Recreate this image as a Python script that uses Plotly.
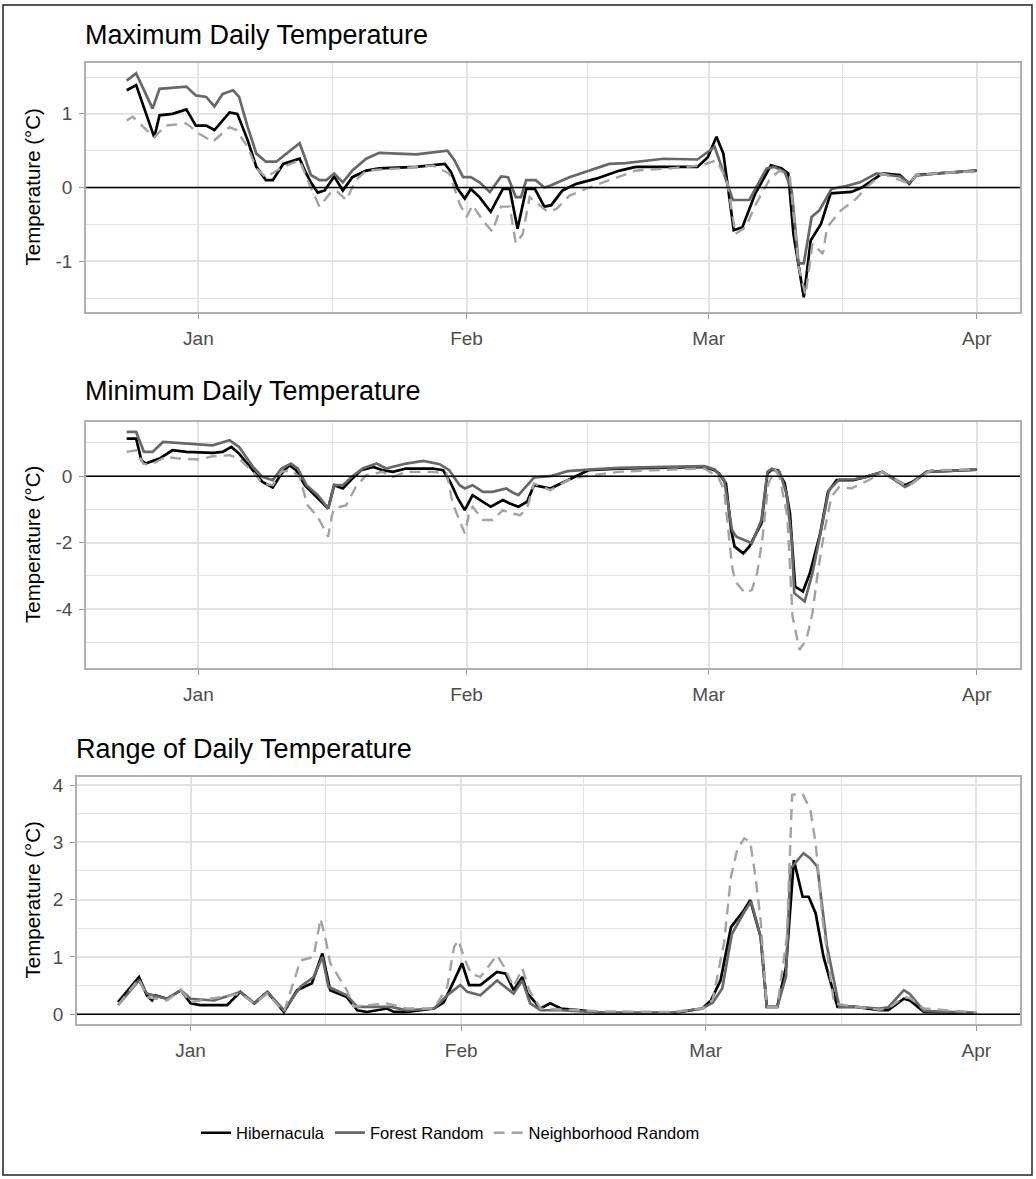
import plotly.graph_objects as go
import pandas as pd

W, H = 1036, 1179
BASE = pd.Timestamp("2017-01-01")

series_names = ["Hibernacula", "Forest Random", "Neighborhood Random"]
month_labels = ["Jan", "Feb", "Mar", "Apr"]
month_days = [0, 31, 59, 90]          # days since 1 Jan
mid_month_days = [15.5, 45, 74.5]

# ---------------- Maximum daily temperature (days since 1 Jan, value) ----------------
max_hib_day = [-8.3, -7.2, -5.1, -4.5, -3, -1.4, -0.3, 0.9, 1.85, 3.6, 4.5, 5.7, 6.7, 7.8, 8.6, 9.8, 11.7, 12.3,
               13.0, 13.8, 14.6, 15.7, 16.7, 17.8, 19.4, 20.9, 25.2, 28.5, 29.2, 30.0, 30.8, 31.5, 32.5, 33.8, 35.2,
               36.0, 36.9, 37.9, 38.9, 40.0, 40.8, 42.1, 43.7, 46.0, 48.7, 50.6, 57.7, 58.9, 59.9, 60.7, 61.9, 62.9,
               64.4, 66.2, 67.4, 68.2, 68.8, 70.0, 70.8, 72.0, 73.1, 75.5, 76.7, 79.1, 81.1, 82.2, 83.0, 86.2, 90]
max_hib_val = [1.32, 1.39, 0.68, 0.98, 1.0, 1.06, 0.84, 0.84, 0.78, 1.02, 1.0, 0.64, 0.28, 0.1, 0.1, 0.32, 0.39, 0.23,
               0.07, -0.07, -0.04, 0.15, -0.04, 0.14, 0.23, 0.26, 0.28, 0.32, 0.21, -0.02, -0.15, -0.02, -0.13, -0.33,
               -0.02, -0.02, -0.56, -0.02, -0.02, -0.26, -0.24, -0.04, 0.05, 0.12, 0.23, 0.28, 0.28, 0.41, 0.69, 0.46,
               -0.58, -0.54, -0.08, 0.30, 0.26, 0.19, -0.63, -1.49, -0.72, -0.49, -0.08, -0.06, 0.0, 0.19, 0.17, 0.05,
               0.17, 0.2, 0.23]
max_for_day = [-8.3, -7.2, -5.3, -4.5, -1.4, -0.3, 0.9, 1.85, 2.8, 4.0, 4.7, 5.7, 6.7, 7.8, 9.0, 11.7, 12.3, 13.0,
               14.0, 14.8, 15.7, 16.7, 17.8, 19.4, 20.9, 25.2, 28.8, 29.6, 30.6, 31.5, 32.5, 33.7, 35.0, 35.8, 36.7,
               37.3, 37.9, 39.0, 40.0, 40.8, 42.9, 45.2, 47.5, 49.4, 53.8, 57.7, 59.7, 61.8, 63.7, 65.7, 66.6, 67.8,
               68.6, 69.4, 70.0, 70.9, 71.8, 73.2, 74.9, 76.5, 78.4, 81.1, 82.2, 83.0, 86.2, 90]
max_for_val = [1.45, 1.55, 1.07, 1.34, 1.37, 1.25, 1.23, 1.10, 1.27, 1.32, 1.23, 0.82, 0.46, 0.35, 0.35, 0.60, 0.41,
               0.17, 0.1, 0.1, 0.19, 0.07, 0.23, 0.39, 0.47, 0.45, 0.50, 0.37, 0.14, 0.14, 0.07, -0.06, 0.15, 0.14,
               -0.13, -0.13, 0.1, 0.1, 0.0, 0.03, 0.14, 0.23, 0.32, 0.33, 0.39, 0.38, 0.55, -0.17, -0.17, 0.26, 0.28,
               0.21, -0.04, -1.03, -1.03, -0.40, -0.31, -0.02, 0.02, 0.07, 0.19, 0.15, 0.06, 0.16, 0.2, 0.23]
max_nei_day = [-8.3, -7.6, -5.1, -3.8, -1.4, 0.1, 1.65, 3.6, 4.4, 5.7, 6.7, 7.8, 9.8, 11.7, 12.8, 14.0, 15.2, 15.9,
               17.1, 18.2, 19.4, 23.3, 27.1, 29.0, 30.2, 31.0, 31.7, 32.9, 34.0, 35.0, 36.0, 36.7, 37.5, 38.3, 39.0,
               40.4, 41.4, 42.9, 44.8, 46.8, 50.6, 54.6, 58.2, 59.9, 61.1, 62.1, 63.3, 64.3, 66.0, 67.2, 68.4, 69.4,
               70.2, 71.0, 72.2, 72.7, 74.3, 75.9, 77.5, 79.1, 82.2, 83.0, 86.2, 90]
max_nei_val = [0.91, 0.96, 0.68, 0.84, 0.87, 0.73, 0.62, 0.82, 0.78, 0.55, 0.26, 0.14, 0.28, 0.37, 0.05, -0.26, -0.08,
               -0.04, -0.17, 0.1, 0.23, 0.26, 0.30, 0.19, -0.22, -0.40, -0.24, -0.45, -0.60, -0.26, -0.26, -0.76,
               -0.63, -0.13, -0.2, -0.33, -0.29, -0.11, -0.02, 0.07, 0.23, 0.26, 0.30, 0.37, 0.1, -0.63, -0.54, -0.26,
               0.1, 0.23, 0.14, -1.08, -1.46, -0.76, -0.90, -0.54, -0.31, -0.17, 0.03, 0.19, 0.05, 0.17, 0.2, 0.22]

# ---------------- Minimum daily temperature ----------------
min_hib_day = [-8.3, -7.2, -6.6, -6.1, -4.5, -3.0, -1.4, 1.65, 2.8, 3.8, 4.7, 6.3, 7.4, 8.6, 9.6, 10.5, 11.3, 12.3,
               13.6, 15.0, 15.7, 16.7, 17.8, 18.8, 20.2, 21.3, 22.5, 24.0, 27.1, 28.3, 29.2, 30.0, 30.8, 31.7, 32.9,
               33.8, 35.2, 36.0, 37.0, 38.0, 38.8, 40.7, 42.7, 45.1, 48.6, 52.6, 58.5, 59.7, 60.2, 61.0, 61.6, 62.0,
               63.0, 63.7, 65.1, 65.8, 66.3, 67.0, 67.8, 68.4, 69.0, 69.9, 70.7, 71.9, 72.8, 73.8, 75.7, 77.2, 79.1,
               80.7, 81.7, 82.6, 84.2, 90]
min_hib_val = [1.13, 1.13, 0.48, 0.38, 0.53, 0.78, 0.73, 0.70, 0.73, 0.88, 0.68, 0.18, -0.17, -0.34, 0.08, 0.33, 0.18,
               -0.27, -0.62, -0.97, -0.27, -0.37, -0.07, 0.18, 0.28, 0.18, 0.13, 0.23, 0.23, 0.18, -0.22, -0.67, -1.02,
               -0.57, -0.77, -0.92, -0.72, -0.82, -0.92, -0.77, -0.27, -0.37, -0.12, 0.18, 0.23, 0.25, 0.28, 0.18,
               0.08, -0.22, -1.62, -2.12, -2.32, -2.12, -1.42, 0.08, 0.2, 0.18, -0.22, -1.12, -3.32, -3.47, -2.92,
               -1.72, -0.47, -0.12, -0.12, -0.02, 0.13, -0.12, -0.27, -0.17, 0.13, 0.2]
min_for_day = [-8.3, -7.2, -6.3, -5.3, -4.1, -1.4, 1.65, 3.6, 4.7, 6.3, 7.4, 8.6, 9.6, 10.7, 11.5, 12.5, 13.8, 15.0,
               15.7, 16.7, 17.8, 19.0, 20.6, 21.7, 24.0, 26.0, 27.9, 29.0, 30.2, 30.8, 31.7, 32.9, 34.0, 35.6, 36.4,
               37.0, 38.0, 38.8, 40.7, 42.7, 45.1, 48.6, 52.6, 58.5, 59.7, 60.8, 61.7, 62.2, 64.0, 65.1, 65.8, 66.3,
               67.2, 68.0, 68.6, 68.9, 70.1, 71.0, 72.0, 72.9, 74.1, 75.7, 77.2, 79.1, 80.7, 81.7, 82.6, 84.2, 90]
min_for_val = [1.33, 1.33, 0.73, 0.73, 1.03, 0.98, 0.93, 1.08, 0.88, 0.28, -0.02, -0.12, 0.23, 0.38, 0.23, -0.27,
               -0.57, -0.97, -0.27, -0.27, 0.0, 0.23, 0.38, 0.23, 0.38, 0.46, 0.36, 0.18, -0.27, -0.37, -0.27, -0.47,
               -0.47, -0.37, -0.50, -0.57, -0.27, -0.04, 0.0, 0.15, 0.2, 0.25, 0.27, 0.3, 0.2, -0.12, -1.62, -1.82,
               -2.02, -1.32, 0.13, 0.22, 0.13, -0.52, -1.92, -3.52, -3.77, -2.92, -1.62, -0.42, -0.1, -0.1, -0.02,
               0.13, -0.15, -0.32, -0.2, 0.13, 0.2]
min_nei_day = [-8.3, -7.2, -6.4, -5.6, -3.8, -2.2, 0.1, 1.65, 3.6, 4.7, 6.3, 7.4, 8.6, 9.6, 10.7, 11.7, 12.6, 13.8,
               15.0, 15.4, 15.7, 17.1, 18.2, 19.4, 21.3, 22.5, 24.0, 27.1, 28.7, 29.4, 30.8, 31.4, 31.7, 32.9, 34.0,
               35.2, 36.2, 37.2, 38.0, 38.8, 40.7, 42.7, 44.7, 48.6, 52.6, 58.5, 60.1, 60.8, 61.7, 62.1, 63.2, 64.0,
               64.6, 65.2, 65.9, 66.7, 67.2, 68.1, 68.7, 69.5, 70.3, 71.0, 71.6, 72.4, 73.2, 74.1, 75.5, 77.5, 79.1,
               80.7, 82.0, 83.0, 84.7, 90]
min_nei_val = [0.73, 0.78, 0.38, 0.33, 0.58, 0.53, 0.5, 0.6, 0.63, 0.53, 0.13, -0.22, -0.27, 0.13, 0.18, -0.02, -0.87,
               -1.22, -1.82, -1.22, -0.97, -0.87, -0.32, 0.03, 0.13, -0.02, 0.13, 0.13, 0.08, -0.82, -1.72, -1.02,
               -0.92, -1.32, -1.32, -1.02, -1.12, -1.17, -0.97, -0.22, -0.42, -0.12, 0.0, 0.13, 0.18, 0.23, -0.02,
               -0.42, -2.72, -3.17, -3.52, -3.42, -2.92, -1.92, -0.22, 0.18, -0.02, -1.22, -4.22, -5.22, -4.92, -4.12,
               -2.92, -1.62, -0.62, -0.32, -0.37, -0.12, 0.13, -0.12, -0.32, -0.12, 0.18, 0.2]

# ---------------- Range of daily temperature ----------------
rng_hib_day = [-8.3, -5.9, -5.0, -4.4, -4.0, -2.7, -1.1, 0, 1.1, 4.2, 5.7, 7.3, 8.8, 10.7, 12.2, 13.9, 15.1, 16.0,
               17.9, 19.1, 20.2, 22.5, 23.3, 24.8, 27.9, 29.0, 30.2, 31.1, 31.9, 33.2, 35.1, 36.1, 37.0, 38.0, 38.6,
               40.1, 41.2, 42.4, 44.7, 47.4, 55.2, 58.6, 59.6, 60.7, 61.9, 63.4, 64.1, 65.3, 66.0, 67.2, 68.2, 69.1,
               70.1, 70.8, 71.6, 72.5, 74.1, 76.2, 78.9, 79.9, 81.7, 82.4, 84.0, 90]
rng_hib_val = [0.21, 0.65, 0.33, 0.24, 0.33, 0.27, 0.42, 0.19, 0.16, 0.16, 0.39, 0.19, 0.39, 0.04, 0.42, 0.54, 1.06,
               0.42, 0.30, 0.07, 0.04, 0.1, 0.04, 0.04, 0.1, 0.21, 0.59, 0.89, 0.51, 0.51, 0.74, 0.71, 0.42, 0.65,
               0.36, 0.1, 0.19, 0.1, 0.07, 0.02, 0.02, 0.1, 0.24, 0.59, 1.52, 1.82, 1.99, 1.35, 0.13, 0.13, 0.83,
               2.69, 2.05, 2.05, 1.76, 1.0, 0.13, 0.13, 0.07, 0.07, 0.27, 0.24, 0.04, 0.02]
rng_for_day = [-8.3, -5.9, -5.0, -2.7, -1.1, 0, 2.7, 5.7, 7.3, 8.8, 10.7, 12.6, 14.1, 15.1, 15.8, 17.9, 19.1, 22.9,
               24.8, 27.9, 29.4, 30.9, 31.7, 33.2, 35.1, 37.0, 38.0, 38.9, 40.1, 42.4, 44.7, 47.4, 55.2, 58.6, 59.8,
               60.9, 62.0, 63.4, 64.2, 65.3, 66.0, 67.2, 68.2, 68.7, 70.2, 71.0, 71.8, 72.9, 74.3, 76.2, 78.9, 79.9,
               81.7, 82.4, 84.0, 90]
rng_for_val = [0.16, 0.59, 0.36, 0.27, 0.42, 0.27, 0.24, 0.39, 0.19, 0.39, 0.07, 0.48, 0.65, 1.0, 0.48, 0.33, 0.13,
               0.13, 0.07, 0.1, 0.33, 0.51, 0.39, 0.33, 0.59, 0.36, 0.59, 0.19, 0.07, 0.07, 0.05, 0.03, 0.03, 0.1,
               0.2, 0.45, 1.4, 1.78, 1.97, 1.35, 0.13, 0.13, 0.66, 2.54, 2.81, 2.72, 2.57, 1.18, 0.13, 0.13, 0.1,
               0.12, 0.42, 0.35, 0.06, 0.02]
rng_nei_day = [-8.3, -5.9, -5.0, -2.7, -1.1, 0, 2.3, 5.7, 7.3, 8.8, 10.7, 12.6, 14.1, 14.9, 15.5, 16.0, 17.9, 18.7,
               22.5, 24.8, 27.9, 29.4, 30.2, 30.7, 31.3, 32.1, 33.2, 35.1, 35.9, 37.0, 38.0, 38.8, 40.1, 44.7, 47.4,
               55.2, 58.6, 59.8, 61.1, 61.9, 62.6, 63.4, 64.1, 64.7, 65.3, 66.0, 67.2, 68.3, 68.9, 70.1, 71.0, 71.6,
               72.4, 73.7, 76.2, 78.9, 79.9, 81.7, 82.4, 84.0, 90]
rng_nei_val = [0.16, 0.62, 0.3, 0.24, 0.42, 0.21, 0.27, 0.36, 0.19, 0.36, 0.04, 0.94, 1.0, 1.67, 1.29, 0.89, 0.42,
               0.13, 0.19, 0.1, 0.1, 0.48, 1.18, 1.29, 1.0, 0.71, 0.65, 1.03, 0.83, 0.48, 0.8, 0.42, 0.1, 0.07, 0.05,
               0.04, 0.1, 0.25, 1.24, 2.4, 2.86, 3.07, 3.01, 2.4, 1.64, 0.13, 0.13, 1.35, 3.83, 3.85, 3.56, 2.98,
               1.64, 0.19, 0.13, 0.08, 0.1, 0.3, 0.28, 0.1, 0.03]

panel_titles = ["Maximum Daily Temperature", "Minimum Daily Temperature", "Range of Daily Temperature"]
y_title = "Temperature (°C)"
y_major = [[-1, 0, 1], [-4, -2, 0], [0, 1, 2, 3, 4]]
y_minor = [[-1.5, -0.5, 0.5, 1.5], [-5, -3, -1, 1], [0.5, 1.5, 2.5, 3.5]]
y_ranges = [[-1.69, 1.69], [-5.77, 1.63], [-0.17, 4.14]]

panels = [
    [(max_hib_day, max_hib_val), (max_for_day, max_for_val), (max_nei_day, max_nei_val)],
    [(min_hib_day, min_hib_val), (min_for_day, min_for_val), (min_nei_day, min_nei_val)],
    [(rng_hib_day, rng_hib_val), (rng_for_day, rng_for_val), (rng_nei_day, rng_nei_val)],
]
for p in panels:
    for d, v in p:
        assert len(d) == len(v), (len(d), len(v))

# ---------------- layout geometry (pixels) ----------------
px_x = lambda p: p / W
px_y = lambda p: 1 - p / H
panel_px = [  # left, right, top, bottom
    (86, 1020, 63, 312),
    (86, 1020, 422, 668),
    (77, 1020, 777, 1024),
]
title_y_px = [35, 391, 749]
styles = [
    dict(color="#000000", width=2.7, dash="solid"),
    dict(color="#686868", width=2.7, dash="solid"),
    dict(color="#a3a3a3", width=2.4, dash="11px,7px"),
]


def to_dates(days):
    out = []
    for d in days:
        ts = BASE + pd.Timedelta(minutes=round(float(d) * 1440))
        out.append(ts.strftime("%Y-%m-%d %H:%M"))
    return out


fig = go.Figure()
GRID = "#e3e3e3"
BORDER = "#b0b0b0"
TICKC = "#4d4d4d"
FONT = "Liberation Sans, Arial, sans-serif"
x_range = to_dates([-13.0, 95.0])

for i, panel in enumerate(panels):
    xa = "x" if i == 0 else f"x{i + 1}"
    ya = "y" if i == 0 else f"y{i + 1}"
    for j, (d, v) in enumerate(panel):
        fig.add_trace(go.Scatter(
            x=to_dates(d), y=v, mode="lines", name=series_names[j],
            line=styles[j], xaxis=xa, yaxis=ya, showlegend=(i == 0), legendgroup=series_names[j],
        ))
    l, r, t, b = panel_px[i]
    key = "" if i == 0 else str(i + 1)
    fig.layout["xaxis" + key] = dict(
        domain=[px_x(l), px_x(r)], anchor=ya, type="date", range=x_range,
        tickmode="array", tickvals=to_dates(month_days), ticktext=month_labels,
        showgrid=True, gridcolor=GRID, gridwidth=1.6,
        minor=dict(tickmode="array", tickvals=to_dates(mid_month_days), showgrid=True,
                   gridcolor=GRID, gridwidth=1.1, ticks=""),
        showline=True, mirror=True, linecolor=BORDER, linewidth=1.5,
        ticks="outside", ticklen=5, tickwidth=1.3, tickcolor="#9a9a9a",
        tickfont=dict(family=FONT, size=19, color=TICKC), ticklabelstandoff=3,
        zeroline=False, automargin=False, fixedrange=True,
    )
    fig.layout["yaxis" + key] = dict(
        domain=[px_y(b), px_y(t)], anchor=xa, range=y_ranges[i],
        tickmode="array", tickvals=y_major[i], ticktext=[str(k) for k in y_major[i]],
        showgrid=True, gridcolor=GRID, gridwidth=1.6,
        minor=dict(tickmode="array", tickvals=y_minor[i], showgrid=True,
                   gridcolor=GRID, gridwidth=1.1, ticks=""),
        showline=True, mirror=True, linecolor=BORDER, linewidth=1.5,
        ticks="outside", ticklen=5, tickwidth=1.3, tickcolor="#9a9a9a",
        tickfont=dict(family=FONT, size=19, color=TICKC), ticklabelstandoff=3,
        zeroline=False, automargin=False, fixedrange=True,
    )
    # zero reference line
    fig.add_shape(type="line", xref=f"{xa} domain", yref=ya, x0=0, x1=1, y0=0, y1=0,
                  line=dict(color="black", width=1.6), layer="above")
    # panel title
    fig.add_annotation(text=panel_titles[i], xref="paper", yref="paper", x=px_x(l - 3), y=px_y(title_y_px[i]),
                       xanchor="left", yanchor="middle", showarrow=False,
                       font=dict(family=FONT, size=27, color="black"))
    # y-axis title
    fig.add_annotation(text=y_title, xref="paper", yref="paper", x=px_x(32), y=px_y((t + b) / 2),
                       xanchor="center", yanchor="middle", textangle=-90, showarrow=False,
                       font=dict(family=FONT, size=20.5, color="black"))

# outer border
fig.add_shape(type="rect", xref="paper", yref="paper", x0=px_x(3), x1=px_x(1032), y0=px_y(1175), y1=px_y(5),
              line=dict(color="#222222", width=1.5), layer="above")

fig.update_layout(
    width=W, height=H, margin=dict(l=0, r=0, t=0, b=0),
    paper_bgcolor="white", plot_bgcolor="white",
    font=dict(family=FONT),
    legend=dict(orientation="h", x=px_x(196), xanchor="left", y=px_y(1133), yanchor="middle",
                font=dict(family=FONT, size=16.5, color="black"), itemwidth=30, bgcolor="rgba(0,0,0,0)"),
)

fig.write_html("out.html")
